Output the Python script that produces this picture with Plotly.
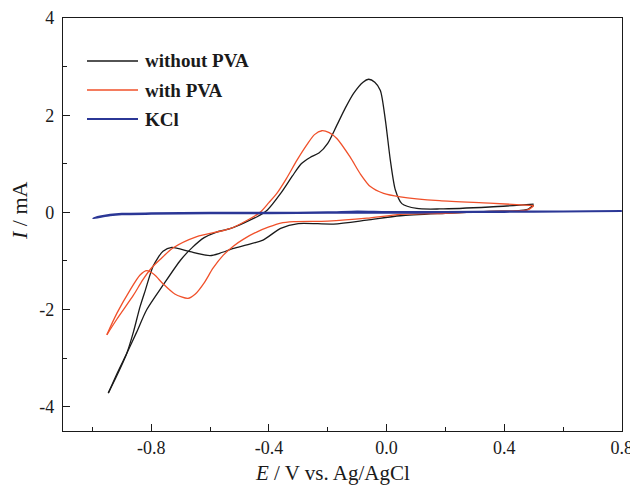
import plotly.graph_objects as go

# ---- data ----
# without PVA: anodic sweep (-0.95 V -> 0.5 V) and cathodic sweep (0.5 V -> -0.95 V)
without_pva_anodic_E = [-0.946, -0.915, -0.883, -0.85, -0.815, -0.76, -0.70, -0.66, -0.62, -0.58, -0.53, -0.44, -0.405,
                        -0.36, -0.32, -0.29, -0.26, -0.23, -0.20, -0.17, -0.14, -0.112, -0.08, -0.061,
                        -0.04, -0.021, -0.004, 0.013, 0.03, 0.052, 0.103, 0.18, 0.35, 0.5]
without_pva_anodic_I = [-3.72, -3.30, -2.90, -2.47, -2.00, -1.50, -0.98, -0.72, -0.52, -0.41, -0.33, -0.09, 0.05,
                        0.39, 0.75, 1.00, 1.13, 1.22, 1.42, 1.78, 2.15, 2.45, 2.68, 2.74,
                        2.68, 2.51, 1.90, 1.07, 0.46, 0.18, 0.08, 0.07, 0.11, 0.17]
without_pva_cathodic_E = [0.5, 0.48, 0.44, 0.35, 0.20, 0.047, -0.067, -0.18, -0.30, -0.36, -0.42, -0.475,
                          -0.52, -0.566, -0.60, -0.668, -0.73, -0.76, -0.793, -0.82, -0.838, -0.86,
                          -0.883, -0.92, -0.946]
without_pva_cathodic_I = [0.15, 0.06, 0.03, 0.02, -0.02, -0.07, -0.16, -0.24, -0.23, -0.33, -0.57, -0.67,
                          -0.74, -0.84, -0.89, -0.81, -0.72, -0.80, -1.10, -1.60, -1.94, -2.45,
                          -2.90, -3.40, -3.72]

# with PVA
with_pva_anodic_E = [-0.951, -0.917, -0.86, -0.83, -0.80, -0.77, -0.725, -0.645, -0.53, -0.43, -0.40,
                     -0.373, -0.34, -0.305, -0.27, -0.245, -0.22, -0.195, -0.169, -0.124, -0.09,
                     -0.055, -0.01, 0.047, 0.18, 0.35, 0.5]
with_pva_anodic_I = [-2.52, -2.20, -1.70, -1.40, -1.15, -0.97, -0.73, -0.50, -0.33, 0.00, 0.20,
                     0.39, 0.70, 1.07, 1.40, 1.60, 1.68, 1.64, 1.52, 1.14, 0.80,
                     0.53, 0.39, 0.32, 0.24, 0.19, 0.14]
with_pva_cathodic_E = [0.5, 0.48, 0.44, 0.35, 0.20, 0.047, -0.067, -0.20, -0.316, -0.36, -0.40, -0.44,
                       -0.486, -0.52, -0.555, -0.59, -0.62, -0.65, -0.675, -0.72, -0.76, -0.79, -0.815,
                       -0.838, -0.872, -0.917, -0.951]
with_pva_cathodic_I = [0.13, 0.05, 0.03, 0.02, -0.02, -0.04, -0.12, -0.18, -0.19, -0.22, -0.30, -0.40,
                       -0.55, -0.69, -0.88, -1.15, -1.45, -1.68, -1.77, -1.68, -1.47, -1.28, -1.20,
                       -1.29, -1.60, -2.08, -2.52]

# KCl blank
kcl_E = [-0.997, -0.97, -0.94, -0.90, -0.80, -0.60, -0.40, -0.20, -0.10, 0.0, 0.2, 0.4, 0.6, 0.8,
         0.6, 0.4, 0.2, 0.0, -0.2, -0.4, -0.6, -0.8, -0.90, -0.94, -0.97, -0.997]
kcl_I = [-0.12, -0.08, -0.05, -0.03, -0.02, -0.01, -0.01, 0.00, 0.02, 0.01, 0.01, 0.02, 0.02, 0.03,
         0.02, 0.01, 0.00, -0.01, -0.01, -0.02, -0.02, -0.03, -0.04, -0.06, -0.09, -0.12]

series_names = ["without PVA", "with PVA", "KCl"]
series_colors = ["#1a1a1a", "#f0502a", "#2b3796"]

x_tick_vals = [-0.8, -0.4, 0.0, 0.4, 0.8]
x_tick_text = ["-0.8", "-0.4", "0.0", "0.4", "0.8"]
x_minor_vals = [-1.0, -0.6, -0.2, 0.2, 0.6]
y_tick_vals = [-4, -2, 0, 2, 4]
y_tick_text = ["-4", "-2", "0", "2", "4"]
y_minor_vals = [-3, -1, 1, 3]

x_title = "<i>E</i> / V vs. Ag/AgCl"
y_title = "<i>I</i> / mA"

FONT = "Liberation Serif, Times New Roman, serif"
INK = "#1a1a1a"

fig = go.Figure()
branches = [
    (without_pva_anodic_E, without_pva_anodic_I, 0, 1.3),
    (without_pva_cathodic_E, without_pva_cathodic_I, 0, 1.3),
    (with_pva_anodic_E, with_pva_anodic_I, 1, 1.3),
    (with_pva_cathodic_E, with_pva_cathodic_I, 1, 1.3),
    (kcl_E, kcl_I, 2, 2.0),
]
for xs, ys, k, w in branches:
    fig.add_trace(go.Scatter(x=xs, y=ys, mode="lines", name=series_names[k],
                             line=dict(color=series_colors[k], width=w, shape="spline", smoothing=0.7),
                             showlegend=False, hoverinfo="skip"))

# plot-area geometry in pixels (for paper-coordinate placement of legend / titles)
W, H = 630, 487
L, R, T, B = 63, 622, 18, 431
def px(xp):
    return (xp - L) / (R - L)
def py(yp):
    return (B - yp) / (B - T)

legend_y = [61, 90, 119]
for name, col, yy, w in zip(series_names, series_colors, legend_y, [1.5, 1.5, 2.0]):
    fig.add_shape(type="line", xref="paper", yref="paper",
                  x0=px(87), x1=px(138), y0=py(yy), y1=py(yy),
                  line=dict(color=col, width=w))
    fig.add_annotation(xref="paper", yref="paper", x=px(143), y=py(yy),
                       xanchor="left", yanchor="middle", showarrow=False,
                       text="<b>%s</b>" % name,
                       font=dict(family=FONT, size=19, color=INK))

# axis titles
fig.add_annotation(xref="paper", yref="paper", x=px(332), y=py(473),
                   xanchor="center", yanchor="middle", showarrow=False,
                   text=x_title, font=dict(family=FONT, size=21, color=INK))
fig.add_annotation(xref="paper", yref="paper", x=px(19), y=py(211),
                   xanchor="center", yanchor="middle", showarrow=False, textangle=-90,
                   text=y_title, font=dict(family=FONT, size=22, color=INK))

axis_common = dict(showline=True, linecolor=INK, linewidth=1.3, mirror=True,
                   ticks="inside", ticklen=7, tickwidth=1.2, tickcolor=INK,
                   showgrid=False, zeroline=False, automargin=False,
                   ticklabeloverflow="allow",
                   tickfont=dict(family=FONT, size=18, color=INK))

fig.update_xaxes(range=[-1.1, 0.8005], tickmode="array", tickvals=x_tick_vals, ticktext=x_tick_text,
                 minor=dict(tickmode="array", tickvals=x_minor_vals, ticks="inside", ticklen=4,
                            tickwidth=1.2, tickcolor=INK),
                 **axis_common)
fig.update_yaxes(range=[-4.5, 4.0005], tickmode="array", tickvals=y_tick_vals, ticktext=y_tick_text,
                 minor=dict(tickmode="array", tickvals=y_minor_vals, ticks="inside", ticklen=4,
                            tickwidth=1.2, tickcolor=INK),
                 ticklabelstandoff=4,
                 **axis_common)

fig.update_layout(width=W, height=H,
                  margin=dict(l=L, r=W - R, t=T, b=H - B),
                  paper_bgcolor="white", plot_bgcolor="white",
                  font=dict(family=FONT), hovermode=False)

# remove the default 8 px page margin so the figure sits at the window's top-left corner
fig.write_html("out.html", config={"displayModeBar": False},
               post_script="document.body.style.margin='0';document.body.style.overflow='hidden';")
